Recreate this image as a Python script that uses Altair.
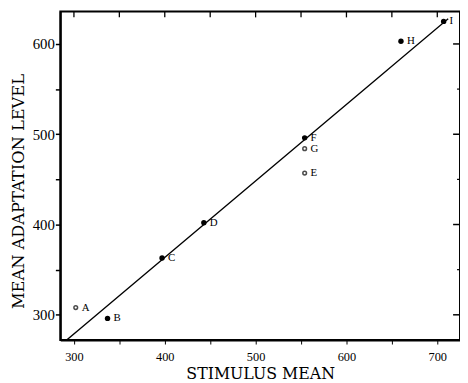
import altair as alt
import pandas as pd

labels = ["A", "B", "C", "D", "E", "F", "G", "H", "I"]
stim = [302, 337, 397, 443, 554, 554, 554, 660, 707]
adapt = [308, 296, 363, 402, 457, 496, 484, 603, 625]
filled = [False, True, True, True, False, True, False, True, True]

line_x = [292, 712]
line_y = [272, 628]

x_all_ticks = [300, 350, 400, 450, 500, 550, 600, 650, 700]
y_major = [300, 400, 500, 600]
y_minor = [350, 450, 550]

FONT = "Liberation Serif"
TFONT = "DejaVu Serif"

pts = pd.DataFrame({"label": labels, "x": stim, "y": adapt, "filled": filled})
ln = pd.DataFrame({"x": line_x, "y": line_y})
xt = pd.DataFrame({"v": x_all_ticks})
ymaj = pd.DataFrame({"v": y_major})
ymin = pd.DataFrame({"v": y_minor})

xs = alt.Scale(domain=[285, 725], nice=False, zero=False)
ys = alt.Scale(domain=[272, 636], nice=False, zero=False)

xax = alt.Axis(values=x_all_ticks, labelExpr="datum.value % 100 == 0 ? datum.label : ''",
               title="STIMULUS MEAN", grid=False, domainColor="black", domainWidth=2,
               tickColor="black", tickSize=4, labelFont=FONT, labelFontSize=12.5,
               labelColor="black", titleFont=TFONT, titleFontSize=16, titleFontWeight="normal",
               titleColor="black", titlePadding=2, labelPadding=7)
yax = alt.Axis(values=[300, 350, 400, 450, 500, 550, 600],
               labelExpr="datum.value % 100 == 0 ? datum.label : ''",
               title="MEAN ADAPTATION LEVEL", grid=False, domainColor="black", domainWidth=2,
               tickColor="black", tickSize=5, tickWidth=1.5, labelFont=FONT, labelFontSize=15,
               labelColor="black", titleFont=TFONT, titleFontSize=16.5, titleFontWeight="normal",
               titleColor="black", titlePadding=5.5, labelPadding=1, titleY=182)

line = alt.Chart(ln).mark_line(color="black", strokeWidth=1.3, clip=True).encode(
    x=alt.X("x:Q", scale=xs, axis=xax),
    y=alt.Y("y:Q", scale=ys, axis=yax),
)

dots_filled = alt.Chart(pts).transform_filter("datum.filled").mark_circle(
    color="black", size=30, opacity=1).encode(x=alt.X("x:Q", scale=xs), y=alt.Y("y:Q", scale=ys))
dots_open = alt.Chart(pts).transform_filter("!datum.filled").mark_point(
    color="black", size=14, strokeWidth=1.5, filled=False).encode(
    x=alt.X("x:Q", scale=xs), y=alt.Y("y:Q", scale=ys))

text = alt.Chart(pts).mark_text(align="left", baseline="middle", dx=6, font=FONT,
                                fontSize=11, color="black").encode(
    x=alt.X("x:Q", scale=xs), y=alt.Y("y:Q", scale=ys), text="label:N")

top_ticks = alt.Chart(xt).mark_rule(color="black", strokeWidth=1.3).encode(
    x=alt.X("v:Q", scale=xs), y=alt.value(0), y2=alt.value(6))
right_major = alt.Chart(ymaj).mark_rule(color="black", strokeWidth=1.5).encode(
    y=alt.Y("v:Q", scale=ys), x=alt.value(398), x2=alt.value(405))
right_minor = alt.Chart(ymin).mark_rule(color="black", strokeWidth=1.2).encode(
    y=alt.Y("v:Q", scale=ys), x=alt.value(402), x2=alt.value(405))

chart = alt.layer(line, dots_filled, dots_open, text, top_ticks, right_major, right_minor).properties(
    width=405, height=333,
    autosize=alt.AutoSizeParams(type="none"),
    padding={"left": 53, "top": 1, "right": 0, "bottom": 42},
    background="white",
).configure_view(stroke="black", strokeWidth=2)

chart.save("out.html", embed_options={"renderer": "svg", "actions": False})
